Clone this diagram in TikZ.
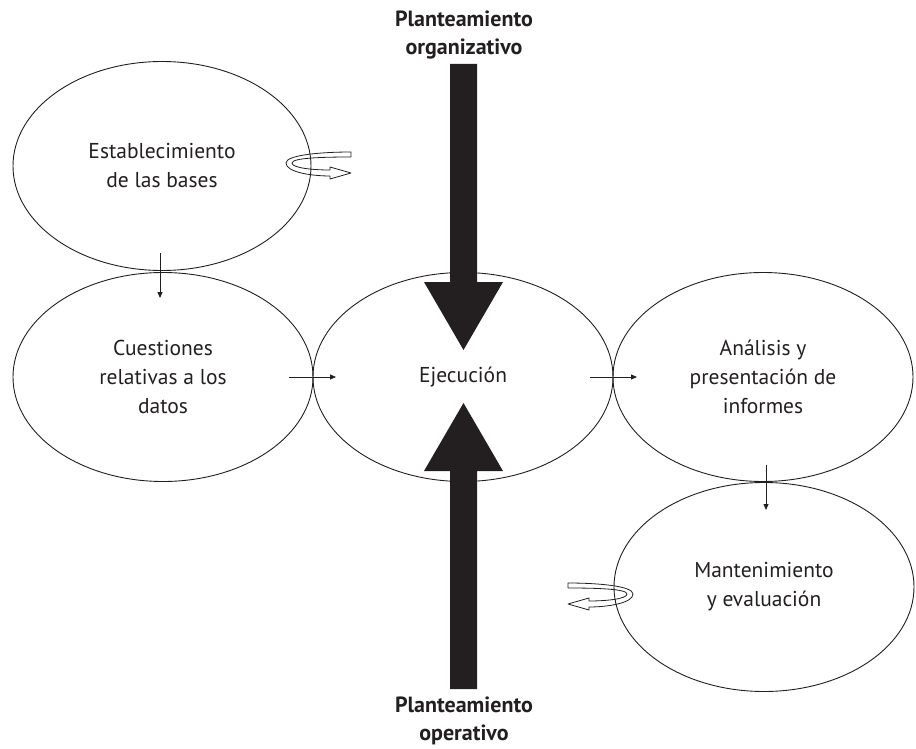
\documentclass[tikz,border=0pt]{standalone}
\usepackage{fontspec}
\setmainfont{PT Sans}
\usetikzlibrary{shapes.geometric,arrows.meta}
\definecolor{ink}{HTML}{231F20}
\begin{document}
\begin{tikzpicture}[x=1pt,y=-1pt,
  bubble/.style={ellipse, draw=ink, line width=0.9pt, minimum width=300pt, minimum height=209pt, inner sep=0pt, align=center, font=\fontsize{21.5}{29}\selectfont, text=ink},
  flow/.style={draw=ink, line width=0.8pt, -{Triangle[length=6pt,width=5pt]}},
  bigarrow/.style={fill=ink, draw=none},
  headtext/.style={font=\fontsize{22}{28}\selectfont\bfseries, text=ink, align=center},
  curl/.pic={\draw[ink, line width=0.8pt, line join=round] (0,0) .. controls (-30,0) and (-65,3) .. (-65,11) .. controls (-65,20) and (-40,24) .. (-21,24) -- (-21,27) -- (0,21) -- (-21,15) -- (-21,18) .. controls (-38,18) and (-59,16) .. (-59,11) .. controls (-59,6) and (-30,5) .. (0,5) -- cycle;}
]
\useasboundingbox (0,0) rectangle (916,749);

\node[bubble, minimum width=298pt] (est) at (162,166) {Establecimiento\\de las bases};
\node[bubble] (cue) at (163,377) {Cuestiones\\relativas a los\\datos};
\node[bubble] (eje) at (463,377) {Ejecución};
\node[bubble] (ana) at (763,377) {Análisis y\\presentación de\\informes};
\node[bubble] (man) at (764,587) {Mantenimiento\\y evaluación};

\node[headtext] (org) at (464,35) {Planteamiento\\organizativo};
\node[headtext] (ope) at (464,721) {Planteamiento\\operativo};

\coordinate (a1) at (160,253); \coordinate (a2) at (160,298);
\coordinate (b1) at (289,377); \coordinate (b2) at (336,377);
\coordinate (c1) at (590,377); \coordinate (c2) at (637,377);
\coordinate (d1) at (766,465); \coordinate (d2) at (766,510);
\draw[flow] (a1) -- (a2);
\draw[flow] (b1) -- (b2);
\draw[flow] (c1) -- (c2);
\draw[flow] (d1) -- (d2);

\fill[bigarrow] (450,64) -- (477,64) -- (477,282) -- (503,282) -- (463.5,350) -- (424,282) -- (450,282) -- cycle;
\fill[bigarrow] (450,689) -- (477,689) -- (477,471) -- (503,471) -- (463.5,403) -- (424,471) -- (450,471) -- cycle;

\pic at (351,152) {curl};
\pic[xscale=-1] at (568,583) {curl};
\end{tikzpicture}
\end{document}
